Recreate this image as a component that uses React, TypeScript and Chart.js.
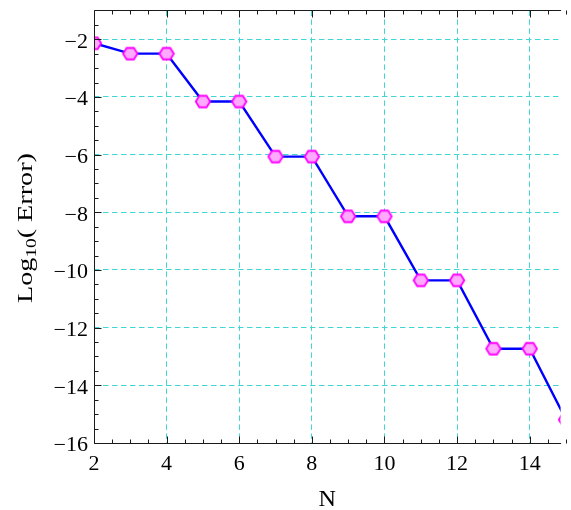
import React, { useEffect, useRef } from "react";
import { Chart, registerables } from "chart.js";

Chart.register(...registerables);

const nValues = [2, 3, 4, 5, 6, 7, 8, 9, 10, 11, 12, 13, 14, 15];
const logError = [-2.14, -2.5, -2.5, -4.16, -4.16, -6.07, -6.07, -8.14, -8.14, -10.36, -10.36, -12.73, -12.73, -15.19];
const xTicks = [2, 4, 6, 8, 10, 12, 14];
const yTicks = [-16, -14, -12, -10, -8, -6, -4, -2];
const xTitle = "N";
const yTitleMain = "Log";
const yTitleSub = "10";
const yTitleRest = "( Error)";

const FONT = "'Liberation Serif', 'Times New Roman', serif";

function makeHexagon(): HTMLCanvasElement {
  const c = document.createElement("canvas");
  const w = 20, h = 18;
  c.width = w;
  c.height = h;
  const ctx = c.getContext("2d")!;
  const r = 7.2;
  const cx = w / 2, cy = h / 2;
  ctx.beginPath();
  for (let i = 0; i < 6; i++) {
    const a = (Math.PI / 3) * i;
    const x = cx + r * Math.cos(a);
    const y = cy + r * 0.92 * Math.sin(a);
    if (i === 0) ctx.moveTo(x, y);
    else ctx.lineTo(x, y);
  }
  ctx.closePath();
  ctx.fillStyle = "#ffaaff";
  ctx.fill();
  ctx.lineWidth = 1.8;
  ctx.strokeStyle = "#ff00ff";
  ctx.stroke();
  return c;
}

function fillStretched(ctx: CanvasRenderingContext2D, text: string, x: number, y: number, sx: number, align: "left" | "center" | "right") {
  const w = ctx.measureText(text).width * sx;
  let left = x;
  if (align === "center") left = x - w / 2;
  else if (align === "right") left = x - w;
  ctx.save();
  ctx.translate(left, y);
  ctx.scale(sx, 1);
  ctx.textAlign = "left";
  ctx.fillText(text, 0, 0);
  ctx.restore();
}

const framePlugin = {
  id: "frameTicks",
  afterDraw(chart: any) {
    const { ctx, chartArea } = chart;
    const xs = chart.scales.x;
    const ys = chart.scales.y;
    const L = Math.round(chartArea.left) + 0.5;
    const T = Math.round(chartArea.top) + 0.5;
    const B = Math.round(chartArea.bottom) + 0.5;
    const R = chartArea.right + 0.5;
    ctx.save();
    ctx.strokeStyle = "#1a1a1a";
    ctx.lineWidth = 1;
    ctx.beginPath();
    ctx.moveTo(R, T);
    ctx.lineTo(L, T);
    ctx.lineTo(L, B);
    ctx.lineTo(R, B);
    ctx.stroke();
    ctx.beginPath();
    for (let v = 2; v <= 15.001; v += 0.5) {
      const px = Math.round(xs.getPixelForValue(v)) + 0.5;
      const major = Math.abs(v % 2) < 1e-6;
      const len = major ? 7 : 4;
      ctx.moveTo(px, B);
      ctx.lineTo(px, B - len);
      ctx.moveTo(px, T);
      ctx.lineTo(px, T + len);
    }
    for (let v = -16; v <= -1.0001; v += 0.5) {
      const py = Math.round(ys.getPixelForValue(v)) + 0.5;
      const major = Math.abs(v % 2) < 1e-6;
      const len = major ? 7 : 4;
      ctx.moveTo(L, py);
      ctx.lineTo(L + len, py);
    }
    ctx.stroke();

    ctx.fillStyle = "#000";
    ctx.textBaseline = "alphabetic";
    ctx.font = `20px ${FONT}`;
    for (const v of yTicks) {
      const py = ys.getPixelForValue(v);
      fillStretched(ctx, String(v).replace("-", "\u2212"), 88, py + 8.4, 1.1, "right");
    }
    for (const v of xTicks) {
      const px = xs.getPixelForValue(v);
      fillStretched(ctx, String(v), px, 469.5, 1.1, "center");
    }

    ctx.font = `23px ${FONT}`;
    fillStretched(ctx, xTitle, (chartArea.left + chartArea.right) / 2, 506, 1.05, "center");

    const main = `22px ${FONT}`;
    const sub = `15px ${FONT}`;
    ctx.font = main;
    const w1 = ctx.measureText(yTitleMain).width;
    const w3 = ctx.measureText(yTitleRest).width;
    ctx.font = sub;
    const w2 = ctx.measureText(yTitleSub).width;
    const natural = w1 + w2 + w3;
    const sx = 150 / natural;
    ctx.translate(32, 228);
    ctx.rotate(-Math.PI / 2);
    ctx.scale(sx, 1);
    ctx.textAlign = "left";
    let x0 = -natural / 2;
    ctx.font = main;
    ctx.fillText(yTitleMain, x0, 0);
    x0 += w1;
    ctx.font = sub;
    ctx.fillText(yTitleSub, x0, 4);
    x0 += w2;
    ctx.font = main;
    ctx.fillText(yTitleRest, x0, 0);
    ctx.restore();
  },
};

export default function App() {
  const ref = useRef<HTMLCanvasElement>(null);
  useEffect(() => {
    const hex = makeHexagon();
    const chart = new Chart(ref.current!, {
      type: "line",
      data: {
        datasets: [
          {
            data: nValues.map((n, i) => ({ x: n, y: logError[i] })),
            borderColor: "#0000ff",
            borderWidth: 2.4,
            pointStyle: hex as any,
            pointRadius: 8,
            fill: false,
            tension: 0,
          },
        ],
      },
      options: {
        responsive: false,
        animation: false,
        layout: { padding: { top: 9, left: 0, right: 0, bottom: 0 } },
        plugins: { legend: { display: false }, tooltip: { enabled: false } },
        scales: {
          x: {
            type: "linear",
            min: 2,
            max: 14.85,
            afterBuildTicks: (s: any) => {
              s.ticks = xTicks.map((v) => ({ value: v }));
            },
            afterFit: (s: any) => {
              s.height = 67;
              s.paddingLeft = 0;
              s.paddingRight = 0;
              s.paddingTop = 0;
              s.paddingBottom = 0;
            },
            grid: { color: "rgb(64,214,214)", lineWidth: 1, drawTicks: false },
            border: { display: false, dash: [5.5, 3.5] },
            ticks: { display: false },
          },
          y: {
            type: "linear",
            min: -16,
            max: -1,
            afterBuildTicks: (s: any) => {
              s.ticks = yTicks.map((v) => ({ value: v }));
            },
            afterFit: (s: any) => {
              s.width = 94;
              s.paddingLeft = 0;
              s.paddingRight = 0;
              s.paddingTop = 0;
              s.paddingBottom = 0;
            },
            grid: { color: "rgb(64,214,214)", lineWidth: 1, drawTicks: false },
            border: { display: false, dash: [5.5, 3.5] },
            ticks: { display: false },
          },
        },
      },
      plugins: [framePlugin],
    });
    return () => chart.destroy();
  }, []);
  return (
    <div style={{ position: "fixed", left: 0, top: 0, width: 571, height: 510, background: "#fff" }}>
      <canvas ref={ref} width={571} height={510} style={{ width: 571, height: 510 }} />
    </div>
  );
}
